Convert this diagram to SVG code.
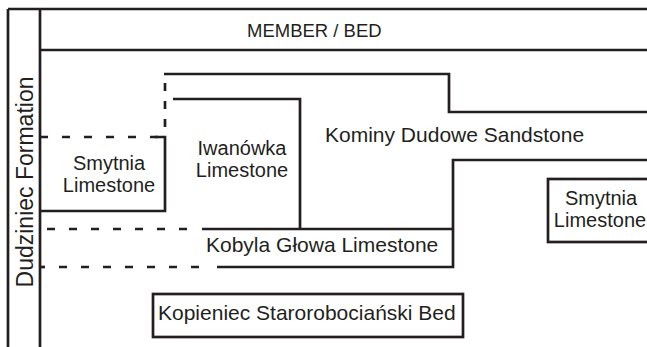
<svg xmlns="http://www.w3.org/2000/svg" width="647" height="347" viewBox="0 0 647 347">
  <style>
    .ln { fill: none; stroke: #231f20; stroke-width: 2.7; stroke-linecap: butt; stroke-linejoin: miter; }
    .dh { stroke-dasharray: 8 14; }
    .dv { stroke-dasharray: 8 10; }
    .t { font-family: "Liberation Sans", Arial, sans-serif; font-size: 21px; fill: #231f20; }
    .t2 { font-size: 20px; }
  </style>
  <rect width="647" height="347" fill="#ffffff"/>
  <g id="connectors">
    <path class="ln" d="M8,9 V347 M8,9 H647 M40,9 V347 M40,50 H647"/>
    <path class="ln" d="M164,74 H449 V112 H647"/>
    <path class="ln dv" d="M165,83 V136"/>
    <path class="ln dh" d="M40,137 H158"/>
    <path class="ln" d="M155,137 H165 V211 H40"/>
    <path class="ln" d="M173,99 H300 V229"/>
    <path class="ln dh" d="M47,229 H196"/>
    <path class="ln" d="M202,229 H453"/>
    <path class="ln" d="M647,160 H453 V267 H217"/>
    <path class="ln" d="M40,267 H45"/>
    <path class="ln dh" d="M59,267 H210"/>
  </g>
  <g id="header">
    <text class="t" x="247" y="37" style="font-size:18.5px">MEMBER / BED</text>
  </g>
  <g id="formation">
    <text class="t" transform="translate(33,182) rotate(-90)" text-anchor="middle" style="font-size:23px">Dudziniec Formation</text>
  </g>
  <g id="smytnia-left">
    <text class="t t2" x="109" y="170" text-anchor="middle">Smytnia</text>
    <text class="t t2" x="109" y="192" text-anchor="middle">Limestone</text>
  </g>
  <g id="iwanowka">
    <text class="t t2" x="242" y="155" text-anchor="middle">Iwanówka</text>
    <text class="t t2" x="242" y="177" text-anchor="middle">Limestone</text>
  </g>
  <g id="kominy">
    <text class="t" x="325" y="142">Kominy Dudowe Sandstone</text>
  </g>
  <g id="kobyla">
    <text class="t" x="206" y="252">Kobyla Głowa Limestone</text>
  </g>
  <g id="smytnia-right">
    <rect class="ln" x="548" y="179" width="110" height="63"/>
    <text class="t t2" x="601" y="205" text-anchor="middle">Smytnia</text>
    <text class="t t2" x="600" y="227" text-anchor="middle">Limestone</text>
  </g>
  <g id="kopieniec">
    <rect class="ln" x="153" y="294" width="310" height="43"/>
    <text class="t" x="158" y="320">Kopieniec Starorobociański Bed</text>
  </g>
</svg>
